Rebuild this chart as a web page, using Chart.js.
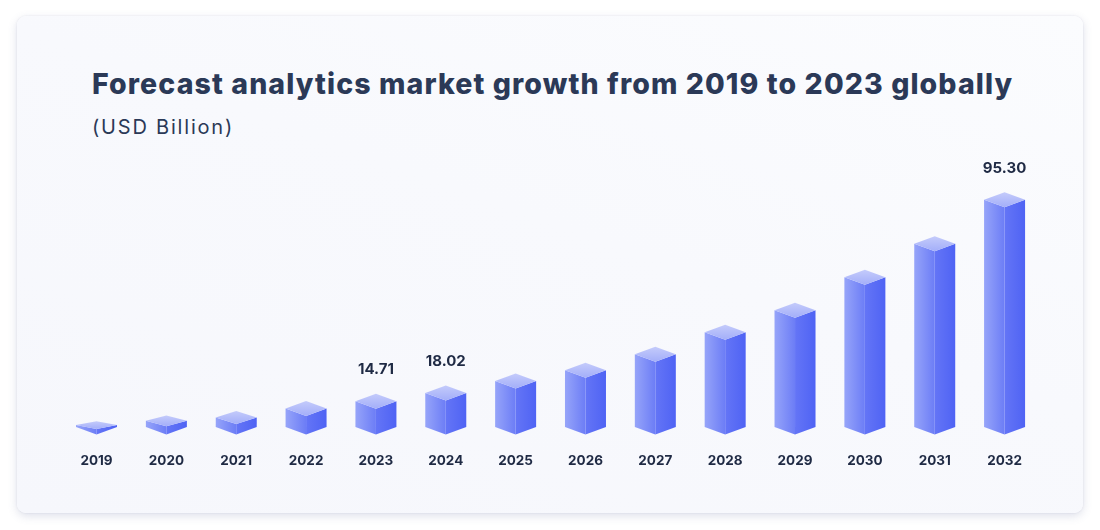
<!DOCTYPE html>
<html>
<head>
<meta charset="utf-8">
<script src="https://cdn.jsdelivr.net/npm/chart.js@4.4.1/dist/chart.umd.min.js"></script>
<style>
  html, body { margin:0; padding:0; background:#ffffff; width:1100px; height:530px; overflow:hidden; }
  .card { position:absolute; left:17px; top:16px; width:1066px; height:497px; border-radius:9px;
          background:linear-gradient(200deg,#fbfcfe 0%,#f8f9fd 45%,#f6f7fc 100%);
          box-shadow:0 3px 10px rgba(90,100,150,0.2), 0 0 2px rgba(90,100,150,0.14); }
  .title { position:absolute; left:92px; top:66px; margin:0; font-family:Inter, "Noto Sans", sans-serif;
           font-weight:800; font-size:28.5px; color:#2b3957; letter-spacing:1.1px; white-space:nowrap; line-height:36px; }
  .sub { position:absolute; left:92px; top:113px; margin:0; font-family:Inter, "Noto Sans", sans-serif;
         font-weight:400; font-size:20px; color:#2b3957; white-space:nowrap; line-height:28px; letter-spacing:1.8px; }
  canvas { position:absolute; left:0; top:0; }
</style>
</head>
<body>
<div class="card"></div>
<h1 class="title">Forecast analytics market growth from 2019 to 2023 globally</h1>
<p class="sub">(USD Billion)</p>
<canvas id="c" width="1100" height="530"></canvas>
<script>
const years = ['2019','2020','2021','2022','2023','2024','2025','2026','2027','2028','2029','2030','2031','2032'];
const marketValues = [3.7, 6.0, 7.8, 11.8, 14.71, 18.02, 22.8, 27.1, 33.5, 42.3, 51.1, 64.3, 77.7, 95.30];
const labeledYears = ['2023','2024','2032'];
const axisMin = 0;
const axisMax = 100;

const prismPlugin = {
  id: 'prism',
  afterDatasetsDraw(chart) {
    const ctx = chart.ctx;
    const meta = chart.getDatasetMeta(0);
    const dFull = 7.5;
    meta.data.forEach((el, i) => {
      const p = el.getProps(['x','y','base','width'], true);
      const x = p.x, half = p.width / 2;
      const yb = p.base - 11;
      const back = p.y - dFull;
      const d = Math.min(dFull, 2.5 + 0.25 * (yb - back));
      const y = Math.min(back + d, yb - 1);
      ctx.save();
      // left face
      let g = ctx.createLinearGradient(x - half, 0, x, 0);
      g.addColorStop(0, '#96a4f9');
      g.addColorStop(1, '#6c7df6');
      ctx.fillStyle = g;
      ctx.beginPath();
      ctx.moveTo(x - half, y); ctx.lineTo(x, y + d); ctx.lineTo(x, yb + dFull); ctx.lineTo(x - half, yb);
      ctx.closePath(); ctx.fill();
      // right face
      g = ctx.createLinearGradient(x, 0, x + half, 0);
      g.addColorStop(0, '#6475f6');
      g.addColorStop(1, '#4f63f4');
      ctx.fillStyle = g;
      ctx.beginPath();
      ctx.moveTo(x, y + d); ctx.lineTo(x + half, y); ctx.lineTo(x + half, yb); ctx.lineTo(x, yb + dFull);
      ctx.closePath(); ctx.fill();
      // top face
      g = ctx.createLinearGradient(x, y - d, x, y + d);
      g.addColorStop(0, '#c4cbfb');
      g.addColorStop(1, '#a3aef9');
      ctx.fillStyle = g;
      ctx.beginPath();
      ctx.moveTo(x, y - d); ctx.lineTo(x + half, y); ctx.lineTo(x, y + d); ctx.lineTo(x - half, y);
      ctx.closePath(); ctx.fill();
      // value label
      if (labeledYears.includes(years[i])) {
        ctx.fillStyle = '#1f2a44';
        ctx.font = '700 15px Inter, "Noto Sans", sans-serif';
        ctx.textAlign = 'center';
        ctx.textBaseline = 'middle';
        ctx.fillText(marketValues[i].toFixed(2), x, back - 24);
      }
      ctx.restore();
    });
  }
};

new Chart(document.getElementById('c'), {
  type: 'bar',
  data: {
    labels: years,
    datasets: [{ data: marketValues, backgroundColor: 'rgba(0,0,0,0)', borderWidth: 0,
                 categoryPercentage: 1, barPercentage: 0.587 }]
  },
  options: {
    responsive: false,
    animation: false,
    devicePixelRatio: 1,
    layout: { padding: { left: 61.6, right: 60.5, top: 188.1, bottom: 46.3 } },
    plugins: { legend: { display: false }, tooltip: { enabled: false }, title: { display: false } },
    scales: {
      x: {
        grid: { display: false, drawTicks: false },
        border: { display: false },
        ticks: { color: '#1f2a44', padding: 14.8, font: { family: 'Inter, "Noto Sans", sans-serif', weight: '700', size: 13.5 } }
      },
      y: { display: false, min: axisMin, max: axisMax }
    }
  },
  plugins: [prismPlugin]
});
</script>
</body>
</html>
